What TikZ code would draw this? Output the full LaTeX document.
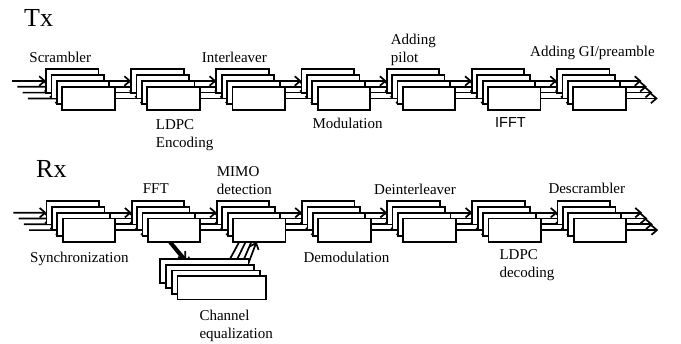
\documentclass[tikz,border=0pt]{standalone}
\usepackage{fontspec}
\setmainfont{Liberation Serif}
\newfontfamily\sansf{Liberation Sans}
\usetikzlibrary{arrows.meta,calc}
\pgfdeclarelayer{bg}
\pgfsetlayers{bg,main}
\begin{document}
\begin{tikzpicture}[x=1bp,y=-1bp,
  blk/.style={draw,fill=white,line width=1.8bp,minimum width=52.5bp,minimum height=23.4bp,inner sep=0,outer sep=0,anchor=north west},
  eqblk/.style={blk,minimum width=88.4bp},
  arr/.style={line width=1.7bp,-{Straight Barb[length=5.5bp,width=9.5bp]}},
  lbl/.style={anchor=base west,inner sep=0,font=\fontsize{15bp}{18bp}\selectfont},
  big/.style={anchor=base west,inner sep=0,font=\fontsize{26bp}{30bp}\selectfont}]
\useasboundingbox (0,0) rectangle (681,343);

% blocks
\foreach \g in {0,...,6}{
  \foreach \i in {0,...,3}{
    \node[blk] (t-\g-\i) at ({46+85.17*\g+5.4*\i},{69.3+5.8*\i}) {};
    \node[blk] (r-\g-\i) at ({46.5+85.17*\g+5.4*\i},{201+5.8*\i}) {};
  }
}
\foreach \i in {0,...,3}{
  \node[eqblk] (e-\i) at ({160+5.8*\i},{259.3+5.6*\i}) {};
}

% connectors (behind blocks)
\begin{pgfonlayer}{bg}
\foreach \i in {0,...,3}{
  \coordinate (tin-\i) at ({12+5.3*\i},{81+5.8*\i});
  \coordinate (rin-\i) at ({13.3+5.3*\i},{212.7+5.8*\i});
  \coordinate (tout-\i) at ($(t-6-\i.east)+(32,0)$);
  \coordinate (rout-\i) at ($(r-6-\i.east)+(32,0)$);
  \draw[arr] (tin-\i) -- (t-0-\i.west);
  \draw[arr] (rin-\i) -- (r-0-\i.west);
  \draw[arr] (t-6-\i.east) -- (tout-\i);
  \draw[arr] (r-6-\i.east) -- (rout-\i);
  \foreach \g in {0,...,5}{
    \pgfmathtruncatemacro\h{\g+1}
    \draw[arr] (t-\g-\i.east) -- (t-\h-\i.west);
    \draw[arr] (r-\g-\i.east) -- (r-\h-\i.west);
  }
  \draw[arr] ($(r-1-\i.south west)+({25-1.5*\i},0)$) -- ($(e-\i.north west)+({26-2.3*\i},0)$);
  \draw[arr] ($(e-\i.north west)+({69.8-1.2*\i},0)$) -- ($(r-2-\i.south west)+({31.9-2.8*\i},0)$);
}
\end{pgfonlayer}

% labels
\node[big] (tx) at (24,26.5) {Tx};
\node[big] (rx) at (36,177.5) {Rx};
\node[lbl] (l-scr) at (29.3,62.3) {Scrambler};
\node[lbl] (l-ldpc1) at (155.7,129) {LDPC};
\node[lbl] (l-ldpc2) at (155.7,147) {Encoding};
\node[lbl] (l-int) at (201.7,62.3) {Interleaver};
\node[lbl] (l-mod) at (312.3,128.3) {Modulation};
\node[lbl] (l-add1) at (390.7,44.5) {Adding};
\node[lbl] (l-add2) at (390.7,62.5) {pilot};
\node[lbl,font=\sansf\fontsize{14.5bp}{17bp}\selectfont] (l-ifft) at (495,127.7) {IFFT};
\node[lbl] (l-gi) at (530,56.7) {Adding GI/preamble};

\node[lbl] (l-syn) at (30,262) {Synchronization};
\node[lbl] (l-fft) at (142.7,193.3) {FFT};
\node[lbl] (l-mimo1) at (216.7,176) {MIMO};
\node[lbl] (l-mimo2) at (216.7,194) {detection};
\node[lbl] (l-dem) at (303.3,262.3) {Demodulation};
\node[lbl] (l-dei) at (374,194) {Deinterleaver};
\node[lbl] (l-dec1) at (499.3,259.3) {LDPC};
\node[lbl] (l-dec2) at (499.3,277.3) {decoding};
\node[lbl] (l-des) at (548.3,193.3) {Descrambler};
\node[lbl] (l-ch1) at (199.3,320.5) {Channel};
\node[lbl] (l-ch2) at (199.3,338.5) {equalization};
\end{tikzpicture}
\end{document}
